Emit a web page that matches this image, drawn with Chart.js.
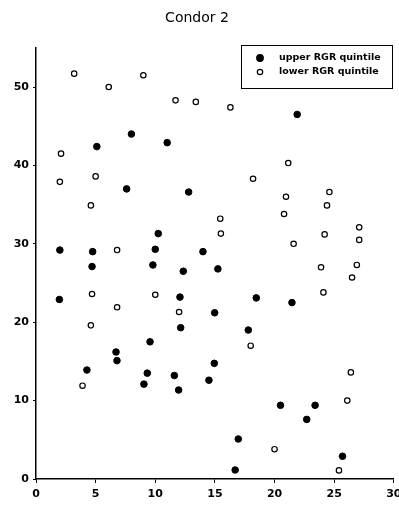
<!DOCTYPE html>
<html>
<head>
<meta charset="utf-8">
<script src="https://cdn.jsdelivr.net/npm/chart.js@4/dist/chart.umd.min.js"></script>
<style>
  html, body { margin: 0; padding: 0; background: #fff; }
  #wrap { width: 399px; height: 507px; }
</style>
</head>
<body>
<div id="wrap"><canvas id="chart" width="399" height="507"></canvas></div>
<script>
// tick labels
const xTicks = [0, 5, 10, 15, 20, 25, 30];
const yTicks = [0, 10, 20, 30, 40, 50];

// upper RGR quintile
const upperX = [8.0, 5.1, 11.0, 7.6, 12.8, 10.25, 2.0, 4.75, 10.0, 4.7, 9.8, 21.9, 14.0, 15.25, 12.35,
  1.96, 12.07, 12.13, 9.56, 6.71, 6.79, 4.27, 9.33, 9.05, 11.6, 11.96, 18.47, 21.46, 14.98, 17.8,
  14.95, 14.5, 20.5, 23.4, 22.7, 16.96, 25.7, 16.7];
const upperY = [44.0, 42.4, 42.9, 37.0, 36.6, 31.3, 29.2, 29.0, 29.3, 27.1, 27.3, 46.5, 29.0, 26.8, 26.5,
  22.9, 23.2, 19.3, 17.5, 16.2, 15.1, 13.9, 13.5, 12.1, 13.2, 11.35, 23.1, 22.5, 21.2, 19.0,
  14.75, 12.6, 9.4, 9.4, 7.6, 5.1, 2.9, 1.15];

// lower RGR quintile
const lowerX = [3.2, 6.1, 9.0, 11.7, 13.4, 2.1, 2.0, 5.0, 4.6, 6.8, 16.3, 21.15, 18.2, 20.96, 24.6,
  24.4, 20.8, 15.45, 15.5, 24.2, 27.1, 27.1, 21.6, 23.9, 26.9, 26.5, 24.1, 4.7, 10.0, 6.8,
  12.0, 4.6, 3.9, 18.0, 26.4, 26.1, 20.0, 25.4];
const lowerY = [51.7, 50.0, 51.5, 48.3, 48.1, 41.5, 37.9, 38.6, 34.9, 29.2, 47.4, 40.3, 38.3, 36.0, 36.6,
  34.9, 33.8, 33.2, 31.3, 31.2, 32.1, 30.5, 30.0, 27.0, 27.3, 25.7, 23.8, 23.6, 23.5, 21.9,
  21.3, 19.6, 11.9, 17.0, 13.6, 10.0, 3.8, 1.1];

const seriesLabels = ["upper RGR quintile", "lower RGR quintile"];

function toPoints(xs, ys) {
  return xs.map((x, i) => ({ x: x, y: ys[i] }));
}

// Legend box drawn inside the plot, top right
const boxLegend = {
  id: "boxLegend",
  afterDraw(chart) {
    const ctx = chart.ctx;
    ctx.save();
    ctx.strokeStyle = "#000";
    ctx.lineWidth = 1;
    ctx.fillStyle = "#fff";
    ctx.fillRect(241.5, 45.5, 151, 43);
    ctx.strokeRect(241.5, 45.5, 151, 43);
    ctx.font = "bold 9.5px 'DejaVu Sans'";
    ctx.textBaseline = "middle";
    chart.data.datasets.forEach((ds, i) => {
      const y = 58 + i * 14;
      ctx.beginPath();
      ctx.arc(260, y, i === 0 ? 3.3 : 2.7, 0, Math.PI * 2);
      ctx.fillStyle = ds.backgroundColor;
      ctx.fill();
      ctx.lineWidth = 1.2;
      ctx.strokeStyle = "#000";
      ctx.stroke();
      ctx.fillStyle = "#000";
      ctx.fillText(ds.label, 279, y);
    });
    ctx.restore();
  }
};

new Chart(document.getElementById("chart"), {
  type: "scatter",
  data: {
    datasets: [
      {
        label: seriesLabels[0],
        data: toPoints(upperX, upperY),
        backgroundColor: "#000",
        borderColor: "#000",
        borderWidth: 1,
        pointRadius: 3.3
      },
      {
        label: seriesLabels[1],
        data: toPoints(lowerX, lowerY),
        backgroundColor: "#fff",
        borderColor: "#000",
        borderWidth: 1.2,
        pointRadius: 2.7
      }
    ]
  },
  options: {
    responsive: false,
    animation: false,
    layout: { padding: { left: 0, right: 5, top: 0, bottom: 0 } },
    plugins: {
      legend: { display: false },
      tooltip: { enabled: false },
      title: {
        display: true,
        text: "Condor 2",
        color: "#000",
        font: { family: "'DejaVu Sans'", size: 14, weight: "normal" },
        padding: { top: 10, bottom: 21 }
      }
    },
    scales: {
      x: {
        type: "linear",
        min: 0,
        max: 30,
        afterBuildTicks: s => { s.ticks = xTicks.map(v => ({ value: v })); },
        afterFit: s => { s.height = 28; s.paddingLeft = 0; s.paddingRight = 0; },
        border: { display: true, color: "#000", width: 1.5 },
        grid: { drawOnChartArea: false, drawTicks: true, tickLength: 4, color: "#000" },
        ticks: {
          color: "#000",
          padding: 5,
          maxRotation: 0,
          font: { family: "'DejaVu Sans'", size: 11, weight: "bold" }
        }
      },
      y: {
        type: "linear",
        min: 0,
        max: 55,
        afterBuildTicks: s => { s.ticks = yTicks.map(v => ({ value: v })); },
        afterFit: s => { s.width = 36; s.paddingTop = 0; s.paddingBottom = 0; },
        border: { display: true, color: "#000", width: 1.5 },
        grid: { drawOnChartArea: false, drawTicks: true, tickLength: 3, color: "#000" },
        ticks: {
          color: "#000",
          padding: 4,
          font: { family: "'DejaVu Sans'", size: 11, weight: "bold" }
        }
      }
    }
  },
  plugins: [boxLegend]
});
</script>
</body>
</html>
